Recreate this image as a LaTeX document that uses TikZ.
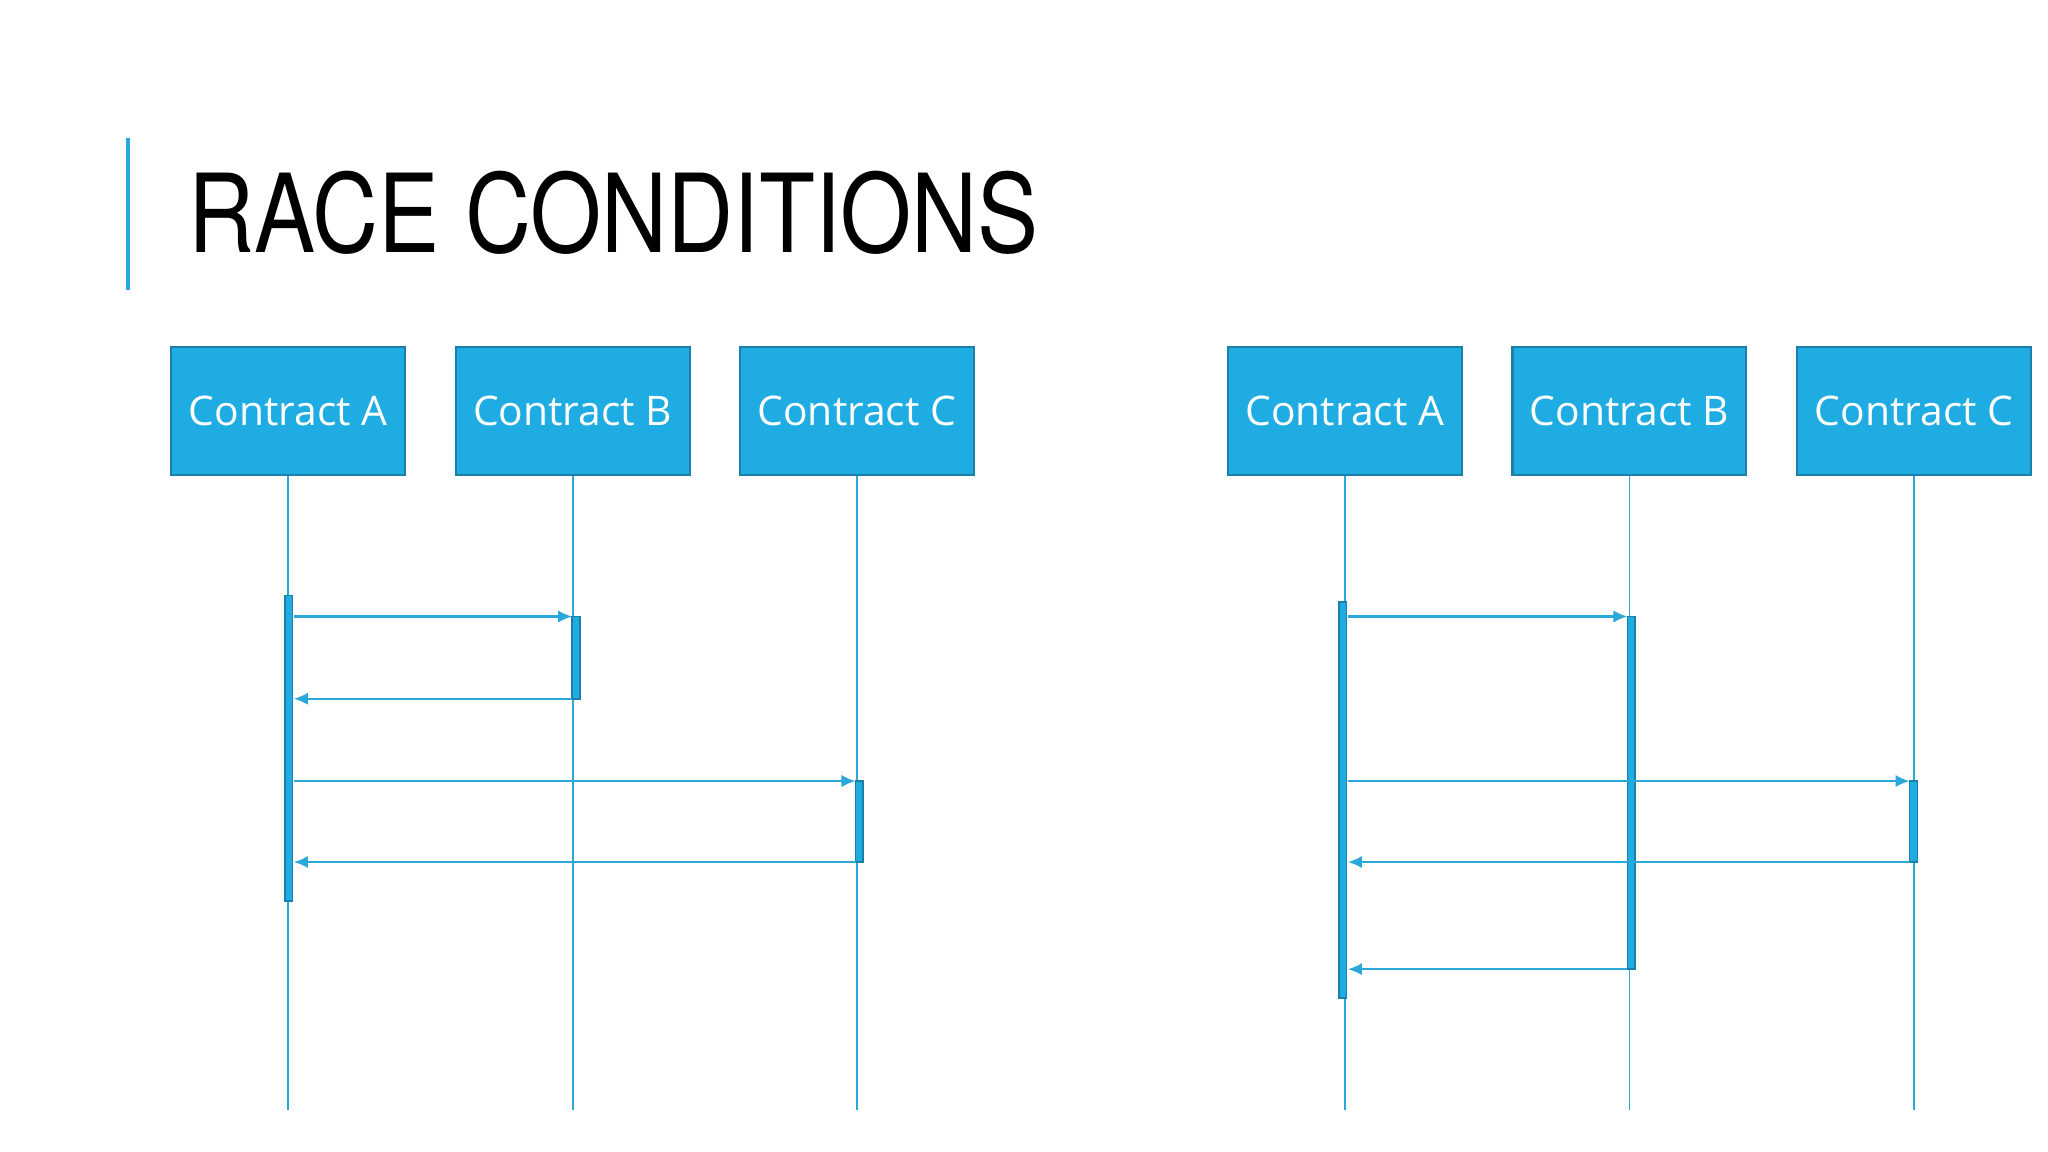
\documentclass[tikz,border=0pt]{standalone}
\usepackage{fontspec}
\setmainfont{Open Sans}
\newfontfamily\titlefont{TeX Gyre Heros}
\usetikzlibrary{arrows.meta}
\definecolor{boxfill}{HTML}{1EACE2}
\definecolor{boxline}{HTML}{1C7FA6}
\definecolor{lline}{HTML}{2AA8DA}
\begin{document}
\begin{tikzpicture}[x=0.013061cm,y=-0.013061cm,
  cbox/.style={draw=boxline,fill=boxfill,line width=0.6pt,minimum width=179*0.013061cm,minimum height=98*0.013061cm,inner sep=0,text=white,font=\fontsize{11.6}{12}\selectfont},
  life/.style={draw=lline,line width=0.5pt},
  act/.style={draw=boxline,fill=boxfill,line width=0.5pt},
  msg/.style={draw=lline,line width=0.6pt,-{Latex[length=4pt,width=3.5pt]}}]
\useasboundingbox (0,0) rectangle (1568,882);
\fill[white] (0,0) rectangle (1568,882);
\draw[lline,line width=1.2pt] (98,106) -- (98,222);
\node[anchor=base west,inner sep=0,font=\titlefont\fontsize{31}{31}\selectfont,xscale=0.84] (title) at (144,193) {RACE CONDITIONS};
% boxes
\foreach \n/\x/\t in {a1/220.5/A,b1/438.5/B,c1/656/C,a2/1029.5/A,b2/1247.5/B,c2/1465.5/C}{
  \node[cbox] (\n) at (\x,315) {Contract \t};
  \coordinate (\n e) at (\x,850);
  \draw[life] (\n.south) -- (\n e);
}
% activations left
\draw[act] (218,456) rectangle (224,690);
\draw[act] (438,472) rectangle (444,535);
\draw[act] (655,598) rectangle (661,660);
% activations right
\draw[act] (1025,461) rectangle (1031,764);
\draw[act] (1246,472) rectangle (1252,742);
\draw[act] (1462,598) rectangle (1468,660);
% messages left
\coordinate (p1) at (225,472); \coordinate (q1) at (438,472);
\coordinate (p2) at (438,535); \coordinate (q2) at (225,535);
\coordinate (p3) at (225,598); \coordinate (q3) at (655,598);
\coordinate (p4) at (655,660); \coordinate (q4) at (225,660);
\draw[msg] (p1) -- (q1);
\draw[msg] (p2) -- (q2);
\draw[msg] (p3) -- (q3);
\draw[msg] (p4) -- (q4);
% messages right
\coordinate (r1) at (1032,472); \coordinate (s1) at (1246,472);
\coordinate (r2) at (1032,598); \coordinate (s2) at (1462,598);
\coordinate (r3) at (1462,660); \coordinate (s3) at (1032,660);
\coordinate (r4) at (1246,742); \coordinate (s4) at (1032,742);
\draw[msg] (r1) -- (s1);
\draw[msg] (r2) -- (s2);
\draw[msg] (r3) -- (s3);
\draw[msg] (r4) -- (s4);
\end{tikzpicture}
\end{document}
